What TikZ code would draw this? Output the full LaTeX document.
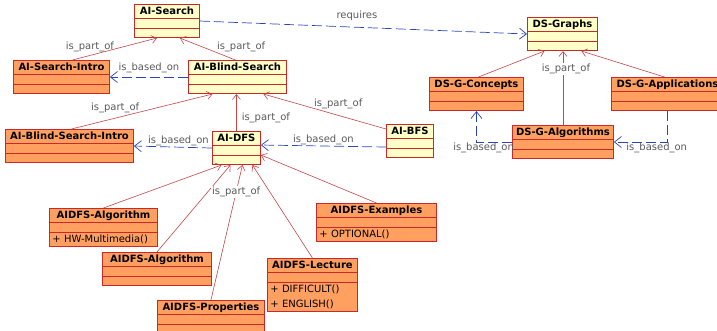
\documentclass[tikz,border=0pt]{standalone}
\usepackage{fontspec}
\setmainfont{DejaVu Sans}
\usetikzlibrary{shapes.multipart,arrows.meta}
\definecolor{boxred}{RGB}{204,40,40}
\definecolor{boxyellow}{RGB}{255,255,200}
\definecolor{boxorange}{RGB}{255,160,96}
\definecolor{partred}{RGB}{196,70,70}
\definecolor{basedblue}{RGB}{40,70,190}
\definecolor{lblgray}{RGB}{90,90,90}
\newcommand{\cname}[1]{\rule[-2.5pt]{0pt}{10.5pt}\textbf{#1}}
\newcommand{\cop}[1]{\rule[-2.5pt]{0pt}{10.5pt}#1}
\tikzset{
  cls/.style={rectangle split, rectangle split parts=3, draw=boxred, line width=0.9pt,
    anchor=north west, inner xsep=3pt, inner ysep=1.5pt, rectangle split empty part height=4pt,
    rectangle split part align={center,left,left}, font=\fontsize{10}{12}\selectfont},
  ycls/.style={cls, fill=boxyellow},
  ocls/.style={cls, fill=boxorange},
  partof/.style={draw=partred, line width=0.6pt, -{Straight Barb[length=5pt,width=8pt]}},
  basedon/.style={draw=basedblue, line width=0.7pt, dash pattern=on 10pt off 4pt,
    -{Straight Barb[length=7pt,width=11pt]}},
  lbl/.style={font=\fontsize{10}{12}\selectfont, text=lblgray, inner sep=1pt}
}
\begin{document}
\begin{tikzpicture}[x=1pt,y=-1pt]
\useasboundingbox (0,0) rectangle (717,331);
\node[ycls, minimum width=65pt] (s) at (134,4) {\cname{AI-Search}\nodepart{two}\nodepart{three}};
\node[ocls, minimum width=96pt] (si) at (13,60) {\cname{AI-Search-Intro}\nodepart{two}\nodepart{three}};
\node[ycls, minimum width=98pt] (bs) at (188,60) {\cname{AI-Blind-Search}\nodepart{two}\nodepart{three}};
\node[ocls, minimum width=128pt] (bsi) at (5,129) {\cname{AI-Blind-Search-Intro}\nodepart{two}\nodepart{three}};
\node[ycls, minimum width=48pt] (dfs) at (212,131) {\cname{AI-DFS}\nodepart{two}\nodepart{three}};
\node[ycls, minimum width=47pt] (bfs) at (386,124) {\cname{AI-BFS}\nodepart{two}\nodepart{three}};
\node[ycls, minimum width=70pt] (g) at (527,17) {\cname{DS-Graphs}\nodepart{two}\nodepart{three}};
\node[ocls, minimum width=94pt] (gc) at (429,77) {\cname{DS-G-Concepts}\nodepart{two}\nodepart{three}};
\node[ocls, minimum width=112pt] (gap) at (611,77) {\cname{DS-G-Applications}\nodepart{two}\nodepart{three}};
\node[ocls, minimum width=101pt] (gal) at (512,125) {\cname{DS-G-Algorithms}\nodepart{two}\nodepart{three}};
\node[ocls, minimum width=108pt] (a1) at (49,208) {\cname{AIDFS-Algorithm}\nodepart{two}\nodepart{three}\cop{+ HW-Multimedia()}};
\node[ocls, minimum width=109pt] (a2) at (102,252) {\cname{AIDFS-Algorithm}\nodepart{two}\nodepart{three}};
\node[ocls, minimum width=107pt] (pr) at (157,300) {\cname{AIDFS-Properties}\nodepart{two}\nodepart{three}};
\node[ocls, minimum width=90pt, align=left] (le) at (267,258) {\cname{AIDFS-Lecture}\nodepart{two}\nodepart{three}\cop{+ DIFFICULT()}\\[3pt]\cop{+ ENGLISH()}};
\node[ocls, minimum width=120pt] (ex) at (316,203) {\cname{AIDFS-Examples}\nodepart{two}\nodepart{three}\cop{+ OPTIONAL()}};
\draw[partof] ([xshift=11pt]si.north) -- node[lbl, pos=0.59, left=7pt]{is\_part\_of} ([xshift=-10pt]s.south);
\draw[partof] ([xshift=-2pt]bs.north) -- node[lbl, pos=0.59, right=13pt]{is\_part\_of} ([xshift=13pt]s.south);
\draw[basedon] (bs.west) -- node[lbl, midway, above=3pt]{is\_based\_on} (si.east);
\draw[partof] ([xshift=2pt]bsi.north) -- node[lbl, pos=0.31, above=4pt]{is\_part\_of} ([xshift=-25pt]bs.south);
\draw[partof] (dfs.north) -- node[lbl, pos=0.36, right=4pt]{is\_part\_of} (dfs.north |- bs.south);
\draw[partof] ([yshift=-5pt]bfs.north west) -- node[lbl, pos=0.39, above=5pt]{is\_part\_of} ([xshift=26pt]bs.south);
\draw[basedon] (dfs.west) -- node[lbl, pos=0.43, above=0pt]{is\_based\_on} (bsi.east);
\draw[basedon] ([yshift=-6pt]bfs.west) -- node[lbl, midway, above=0pt]{is\_based\_on} ([yshift=3pt]dfs.east);
\draw[basedon] (s.east) -- node[lbl, pos=0.48, above=5pt]{requires} (g.west);
\draw[partof] ([xshift=2pt]gc.north) -- ([xshift=-18pt]g.south);
\draw[partof] (gal.north) -- node[lbl, fill=white, pos=0.76, xshift=3pt]{is\_part\_of} (gal.north |- g.south);
\draw[partof] ([xshift=-3pt]gap.north) -- ([xshift=19pt]g.south);
\draw[basedon] (gal.west) -| node[lbl, pos=0.4, below=0pt]{is\_based\_on} (gc.south);
\draw[basedon] (gap.south) |- node[lbl, pos=0.6, below=0pt]{is\_based\_on} (gal.east);
\draw[partof] (a1.north) -- ([xshift=-15pt]dfs.south);
\draw[partof] (a2.north) -- ([xshift=-6pt]dfs.south);
\draw[partof] (pr.north) -- node[lbl, fill=white, pos=0.8]{is\_part\_of} ([xshift=6pt]dfs.south);
\draw[partof] (le.north) -- ([xshift=16pt]dfs.south);
\draw[partof] (ex.north) -- ([yshift=-7pt]dfs.east);
\end{tikzpicture}
\end{document}
